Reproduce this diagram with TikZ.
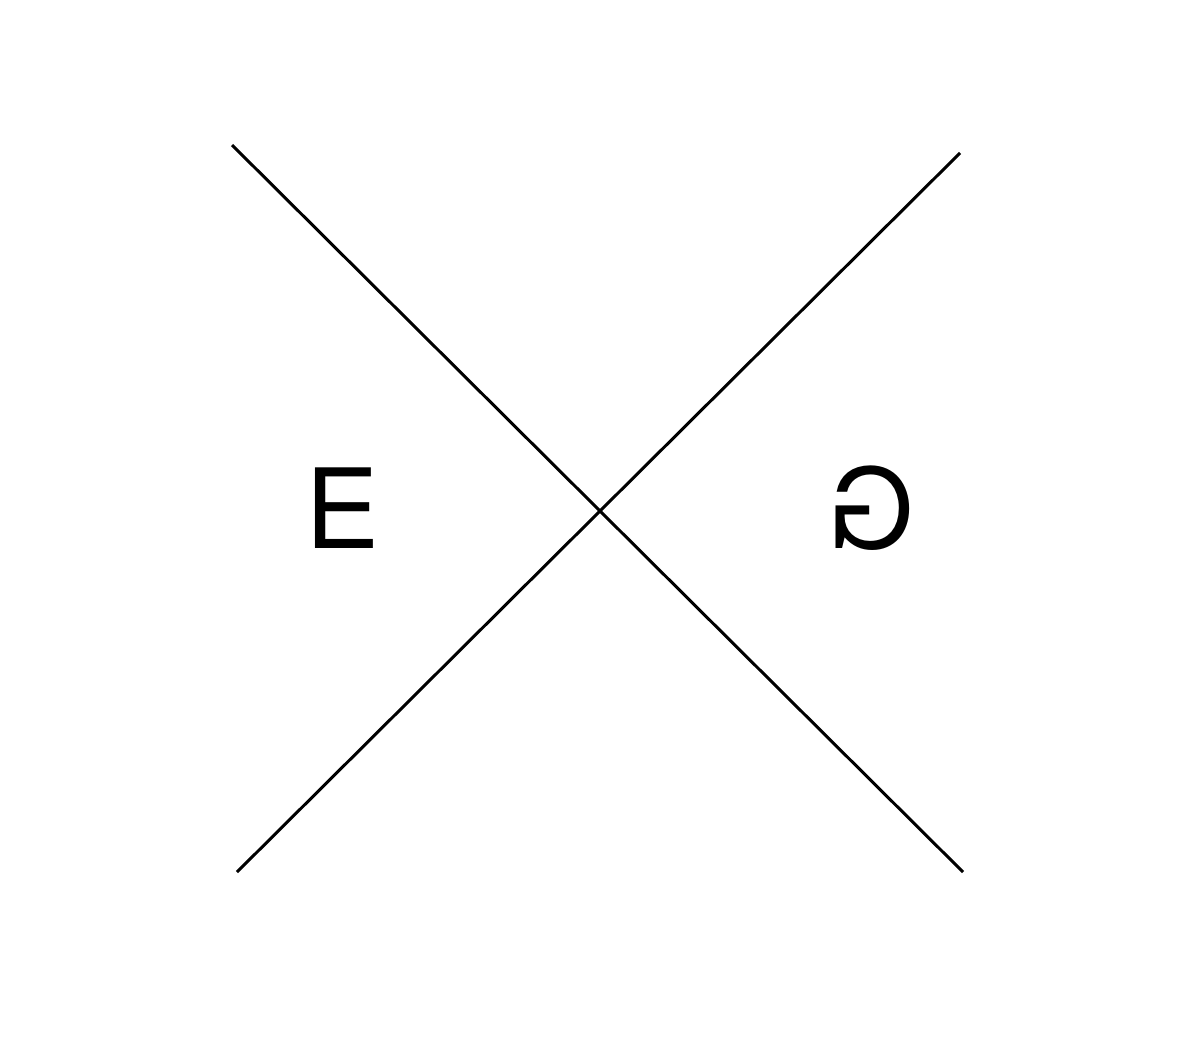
\documentclass[tikz,border=0pt]{standalone}
\usepackage{fontspec}
\setmainfont{TeX Gyre Heros}
\begin{document}
\begin{tikzpicture}[x=0.02cm,y=-0.02cm]
	\tikzset{letter/.style={inner sep=0pt,font=\fontsize{63}{63}\selectfont}}
	\useasboundingbox (0,0) rectangle (1177,1038);
	\coordinate (tl) at (232,145);
	\coordinate (br) at (963,872);
	\coordinate (tr) at (960,153);
	\coordinate (bl) at (237,872);
	\draw [line width=1.7pt] (tl) -- (br);
	\draw [line width=1.7pt] (tr) -- (bl);
	\node[letter] (e) at (342,508) {E};
	\node[letter,xscale=-1] (g) at (871,508) {G};
\end{tikzpicture}
\end{document}
